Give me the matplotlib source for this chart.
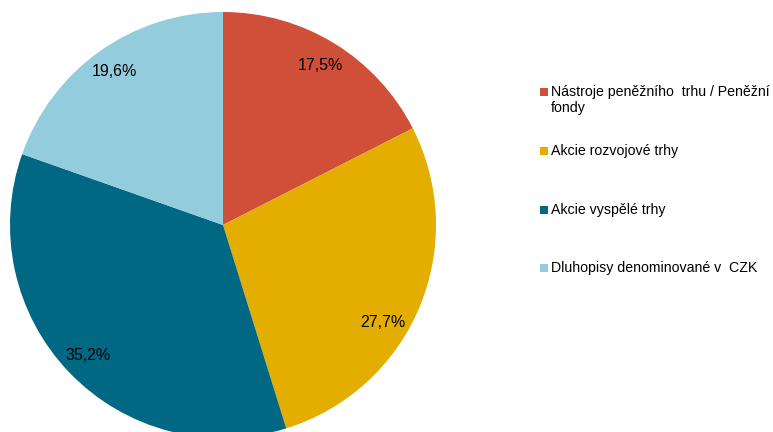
import numpy as np
import matplotlib
matplotlib.use("Agg")
import matplotlib.pyplot as plt
from matplotlib.patches import Rectangle

plt.rcParams['font.family'] = ['Liberation Sans', 'DejaVu Sans']

categories = ["Nástroje peněžního  trhu / Peněžní\nfondy",
              "Akcie rozvojové trhy",
              "Akcie vyspělé trhy",
              "Dluhopisy denominované v  CZK"]
values = [17.5, 27.7, 35.2, 19.6]
colors = ["#D04F39", "#E3AE00", "#006882", "#93CDDD"]

W, H = 773, 432
fig = plt.figure(figsize=(W / 100, H / 100), dpi=100)
cx, cy, r = 223, 225, 213
ax = fig.add_axes([(cx - r) / W, (H - cy - r) / H, 2 * r / W, 2 * r / H])
wedges, texts, autotexts = ax.pie(
    values, colors=colors, startangle=90, counterclock=False,
    autopct=lambda p: f"{p:.1f}".replace(".", ",") + "%",
    pctdistance=0.88, radius=1.0,
    textprops=dict(fontsize=11.5, color="black"),
    wedgeprops=dict(linewidth=0))
ax.set_xlim(-1, 1)
ax.set_ylim(-1, 1)
ax.set_aspect('auto')
ax.axis('off')

# second wedge label sits nearer its end edge in the reference
ang = np.deg2rad(-31.5)
autotexts[1].set_position((0.88 * np.cos(ang), 0.88 * np.sin(ang)))

# legend
ys = [92, 151, 210, 268]
for lab, col, y in zip(categories, colors, ys):
    fig.patches.append(Rectangle((540 / W, (H - y - 4) / H), 8 / W, 8 / H,
                                 transform=fig.transFigure, facecolor=col,
                                 edgecolor='none'))
    fig.text(551 / W, (H - y + 7) / H, lab, fontsize=10.2, va='top', ha='left',
             linespacing=1.15)

fig.savefig("out.png", dpi=100)
